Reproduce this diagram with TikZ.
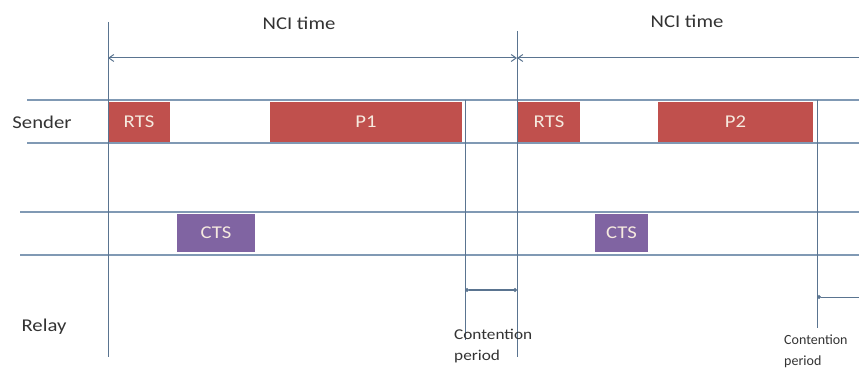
\documentclass[tikz,border=0pt]{standalone}
\usepackage{fontspec}
\setmainfont{Carlito}
\usetikzlibrary{arrows.meta}
\definecolor{boxred}{HTML}{C0504D}
\definecolor{boxpurple}{HTML}{8064A2}
\definecolor{laneline}{HTML}{8099B4}
\definecolor{vline}{HTML}{5A7490}
\definecolor{txt}{HTML}{333333}
\definecolor{boxtxt}{HTML}{F6EADF}
\newcommand{\widetext}[1]{\scalebox{1.15}[1]{#1}}
\tikzset{
  lane/.style={draw=laneline, line width=1.1pt},
  vert/.style={draw=vline, line width=1pt},
  pkt/.style={fill=boxred, draw=none, minimum height=40pt, inner sep=0pt, text=boxtxt, font=\fontsize{18}{20}\selectfont},
  ctsbox/.style={fill=boxpurple, draw=none, minimum height=38pt, inner sep=0pt, text=boxtxt, font=\fontsize{18}{20}\selectfont},
  lbl/.style={text=txt, inner sep=0pt, font=\fontsize{18}{20}\selectfont},
  small/.style={text=txt, inner sep=0pt, font=\fontsize{15}{17}\selectfont, anchor=west},
  smaller/.style={text=txt, inner sep=0pt, font=\fontsize{14}{16}\selectfont, anchor=west},
  span/.style={draw=vline, line width=1pt, {Straight Barb[length=5pt,width=7pt]}-{Straight Barb[length=5pt,width=7pt]}},
  cspan/.style={draw=vline, line width=1pt, {Circle[length=4pt]}-{Circle[length=4pt]}},
}
\begin{document}
\begin{tikzpicture}[x=1pt,y=-1pt]
\useasboundingbox (0,0) rectangle (859,371);
% lane lines
\coordinate (s1l) at (27,100); \coordinate (s1r) at (859,100);
\coordinate (s2l) at (27,143); \coordinate (s2r) at (859,143);
\coordinate (r1l) at (20,212); \coordinate (r1r) at (859,212);
\coordinate (r2l) at (20,255); \coordinate (r2r) at (859,255);
\draw[lane] (s1l) -- (s1r);
\draw[lane] (s2l) -- (s2r);
\draw[lane] (r1l) -- (r1r);
\draw[lane] (r2l) -- (r2r);
% boxes
\node[pkt, minimum width=62pt] (rts1) at (139,122) {\widetext{RTS}};
\node[pkt, minimum width=192pt] (p1) at (366,122) {\widetext{P1}};
\node[pkt, minimum width=62pt] (rts2) at (549,122) {\widetext{RTS}};
\node[pkt, minimum width=155pt] (p2) at (735.5,122) {\widetext{P2}};
\node[ctsbox, minimum width=78pt] (cts1) at (216,233) {\widetext{CTS}};
\node[ctsbox, minimum width=53pt] (cts2) at (621.5,233) {\widetext{CTS}};
% verticals
\coordinate (v1t) at (108,22); \coordinate (v1b) at (108,357);
\coordinate (v2t) at (517,31); \coordinate (v2b) at (517,357);
\coordinate (c1t) at (465,100); \coordinate (c1b) at (465,340);
\coordinate (c2t) at (817,100); \coordinate (c2b) at (817,328);
\draw[vert] (v1t) -- (v1b);
\draw[vert] (v2t) -- (v2b);
\draw[vert] (c1t) -- (c1b);
\draw[vert] (c2t) -- (c2b);
% NCI time spans
\coordinate (n1) at (108,58); \coordinate (n2) at (517,58); \coordinate (n3) at (859,58);
\draw[span] (n1) -- (n2);
\draw[draw=vline, line width=1pt, {Straight Barb[length=5pt,width=7pt]}-] (n2) -- (n3);
% contention spans
\coordinate (k1a) at (465,290); \coordinate (k1b) at (517,290);
\coordinate (k2a) at (817,297); \coordinate (k2b) at (859,297);
\draw[cspan] (k1a) -- (k1b);
\draw[draw=vline, line width=1pt, {Circle[length=4pt]}-] (k2a) -- (k2b);
% labels
\node[lbl] (nci1) at (299,23) {\widetext{NCI time}};
\node[lbl] (nci2) at (687,21) {\widetext{NCI time}};
\node[lbl] (sender) at (42,122) {\widetext{Sender}};
\node[lbl] (relay) at (44,327) {\widetext{Relay}};
\node[small] (cont1) at (454,334) {\widetext{Contention}};
\node[small] (per1) at (454,356) {\widetext{period}};
\node[smaller] (cont2) at (784,340) {Contention};
\node[smaller] (per2) at (784,362) {period};
\end{tikzpicture}
\end{document}
